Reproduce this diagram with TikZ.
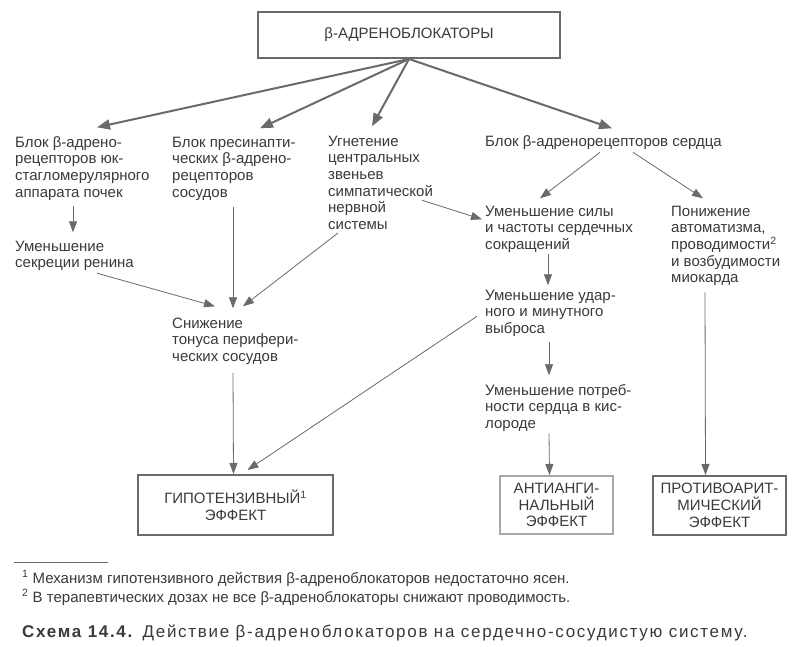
\documentclass[tikz,border=0pt]{standalone}
\usepackage{fontspec}
\setmainfont{Liberation Sans}
\newfontfamily\fnfont{Liberation Sans}
\newfontfamily\capfont[LetterSpace=10]{Liberation Sans}
\usetikzlibrary{arrows.meta,calc}
\definecolor{txt}{HTML}{3A3A3A}
\definecolor{ln}{HTML}{6A6A6A}
\definecolor{lightln}{HTML}{A8A8A8}
\begin{document}
\begin{tikzpicture}[x=1pt,y=-1pt,
  lbl/.style={anchor=north west, inner sep=0pt, align=left,
    font=\fontsize{15}{16.7}\selectfont, text=txt},
  boxst/.style={draw=ln, line width=2pt, align=center, inner sep=0pt,
    font=\fontsize{15}{16.7}\selectfont, text=txt},
  thinarr/.style={draw=ln, line width=0.8pt, -{Triangle[length=11pt,width=8pt]}},
  bigarr/.style={draw=ln, line width=2pt, -{Triangle[length=13pt,width=10pt]}},
  fn/.style={anchor=base west, inner sep=0pt, text=txt,
    font=\fnfont\fontsize{15}{18}\selectfont},
  capst/.style={anchor=base west, inner sep=0pt, text=txt,
    font=\capfont\fontsize{17}{20}\selectfont}
]
\useasboundingbox (0,0) rectangle (811,647);
\fill[white] (0,0) rectangle (811,647);

% top box
\node[boxst, minimum width=302pt, minimum height=46pt] (top) at (409,35) {β-АДРЕНОБЛОКАТОРЫ};

% first row
\node[lbl] (n1) at (15,135.3) {\strut Блок β-адрено-\\рецепторов юк-\\стагломерулярного\\аппарата почек};
\node[lbl] (n2) at (172,135.3) {\strut Блок пресинапти-\\ческих β-адрено-\\рецепторов\\сосудов};
\node[lbl] (n3) at (328,134.3) {\strut Угнетение\\центральных\\звеньев\\симпатической\\нервной\\системы};
\node[lbl] (n4) at (485,134.3) {\strut Блок β-адренорецепторов сердца};

% second level
\node[lbl] (renin) at (15,239.3) {\strut Уменьшение\\секреции ренина};
\node[lbl] (n5) at (485,204.3) {\strut Уменьшение силы\\и частоты сердечных\\сокращений};
\node[lbl] (n6) at (671,204.3) {\strut Понижение\\автоматизма,\\проводимости\textsuperscript{2}\\и возбудимости\\миокарда};
\node[lbl] (sniz) at (172,316.3) {\strut Снижение\\тонуса перифери-\\ческих сосудов};
\node[lbl] (n7) at (485,288.3) {\strut Уменьшение удар-\\ного и минутного\\выброса};
\node[lbl] (n8) at (485,383.3) {\strut Уменьшение потреб-\\ности сердца в кис-\\лороде};

% effect boxes
\node[boxst, minimum width=195pt, minimum height=60pt] (hypo) at (235.5,505) {ГИПОТЕНЗИВНЫЙ\textsuperscript{1}\\ЭФФЕКТ};
\node[boxst, draw=lightln, minimum width=113pt, minimum height=58pt] (anti) at (556.5,505) {АНТИАНГИ-\\НАЛЬНЫЙ\\ЭФФЕКТ};
\node[boxst, minimum width=133pt, minimum height=59pt] (pro) at (719.5,505.5) {ПРОТИВОАРИТ-\\МИЧЕСКИЙ\\ЭФФЕКТ};

% arrows from top box
\draw[bigarr] (top.south) -- ($(n1.north west)+(82,-8)$);
\draw[bigarr] (top.south) -- ($(n2.north west)+(88,-7)$);
\draw[bigarr] (top.south) -- ($(n3.north west)+(44,-8)$);
\draw[bigarr] (top.south) -- ($(n4.north west)+(127,-6)$);

% left branch
\draw[thinarr] ($(n1.south west)+(58,5)$) -- ($(renin.north west)+(58,-7)$);
\draw[thinarr] ($(renin.south west)+(82,2)$) -- ($(sniz.north west)+(43,-10)$);
\draw[thinarr] ($(n2.south west)+(61,6)$) -- ($(sniz.north west)+(61,-8)$);
\draw[thinarr] ($(n3.south west)+(10,3)$) -- ($(sniz.north west)+(71,-10)$);
\draw[thinarr] ($(sniz.south west)+(61,8)$) -- ([xshift=-2pt]hypo.north);

% middle and right branches
\draw[thinarr] ($(n3.north west)+(94,66)$) -- ($(n5.north west)+(-3,15)$);
\draw[thinarr] ($(n4.north west)+(115,18)$) -- ($(n5.north west)+(55,-6)$);
\draw[thinarr] ($(n4.north west)+(148,18)$) -- ($(n6.north west)+(32,-6)$);
\draw[thinarr] ($(n5.north west)+(63,50)$) -- ($(n7.north west)+(63,-3)$);
\draw[thinarr] ($(n7.north west)+(-8,28)$) -- ([xshift=12pt,yshift=4pt]hypo.north);
\draw[thinarr] ($(n7.north west)+(64,54)$) -- ($(n8.north west)+(64,-8)$);
\draw[thinarr] ($(n8.north west)+(64,50)$) -- ([xshift=-7pt]anti.north);
\draw[thinarr] ($(n6.north west)+(34,88)$) -- ([xshift=-14pt]pro.north);

% footnotes
\draw[ln, line width=0.6pt] (14,562) -- (108,562);
\node[fn] (fn1) at (22,583) {\textsuperscript{1} Механизм гипотензивного действия β-адреноблокаторов недостаточно ясен.};
\node[fn] (fn2) at (22,602) {\textsuperscript{2} В терапевтических дозах не все β-адреноблокаторы снижают проводимость.};
\node[capst] (cap) at (22,637) {\textbf{Схема 14.4.} Действие β-адреноблокаторов на сердечно-сосудистую систему.};
\end{tikzpicture}
\end{document}
